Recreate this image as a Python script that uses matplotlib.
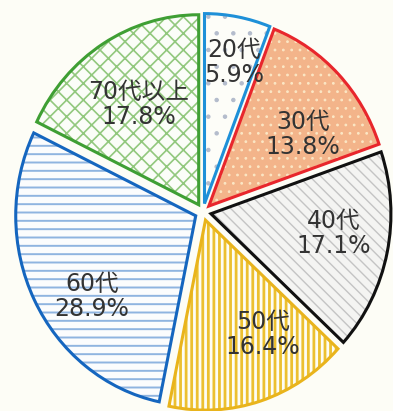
import numpy as np
import matplotlib.pyplot as plt
from matplotlib.patches import Wedge

labels = ["20代", "30代", "40代", "50代", "60代", "70代以上"]
shares = [5.9, 13.8, 17.1, 16.4, 28.9, 17.8]

face_colors = ["#fdfdf8", "#f3b48a", "#f4f4f2", "#fdfdf5", "#fbfcfd", "#fbfdf8"]
hatch_colors = ["#b4bccc", "#fbe6c4", "#c4c4c4", "#ecc030", "#8fb4e0", "#92c87e"]
edge_colors = ["#1e90d8", "#e8262c", "#111111", "#e9b41c", "#1566bf", "#3f9f34"]
hatches = [".", "..", "\\\\\\", "|||", "--", "xx"]
hatch_widths = [0.8, 0.8, 1.0, 2.0, 1.4, 1.2]

# where each label sits: distance from the slice tip and a turn (deg) off the mid-angle
label_r = [0.76, 0.645, 0.69, 0.68, 0.715, 0.625]
label_turn = [-2, -8, 3, 10, 10, 0]

bg = "#fdfdf6"
plt.rcParams["hatch.linewidth"] = 1.1

fig = plt.figure(figsize=(3.93, 4.11), dpi=100, facecolor=bg)
ax = fig.add_axes([0, 0, 1, 1])
ax.set_facecolor(bg)

wedges, _ = ax.pie(shares, startangle=90, counterclock=False,
                   explode=[0.045] * len(shares), radius=1,
                   wedgeprops=dict(linewidth=0))

for w, name, val, fc, hc, ec, h, hw, r, turn in zip(
        wedges, labels, shares, face_colors, hatch_colors, edge_colors,
        hatches, hatch_widths, label_r, label_turn):
    # hatch takes the edge colour, so the outline is drawn as a second wedge
    w.set_facecolor(fc)
    w.set_edgecolor(hc)
    w.set_hatch(h)
    if hasattr(w, "set_hatch_linewidth"):
        w.set_hatch_linewidth(hw)
    ax.add_patch(Wedge(w.center, w.r, w.theta1, w.theta2, fill=False,
                       edgecolor=ec, linewidth=2.2, joinstyle="miter"))
    ang = np.deg2rad((w.theta1 + w.theta2) / 2 + turn)
    x = w.center[0] + r * np.cos(ang)
    y = w.center[1] + r * np.sin(ang)
    ax.text(x, y, f"{name}\n{val}%", ha="center", va="center",
            fontsize=17, linespacing=1.05, color="#333333",
            family=["DejaVu Sans", "Noto Sans CJK JP"])

ax.set_aspect("auto")
ax.set_xlim(-203 / 180, 190 / 180)
ax.set_ylim(-199 / 190, 212 / 190)
ax.axis("off")

fig.savefig("out.png", dpi=100, facecolor=bg)
